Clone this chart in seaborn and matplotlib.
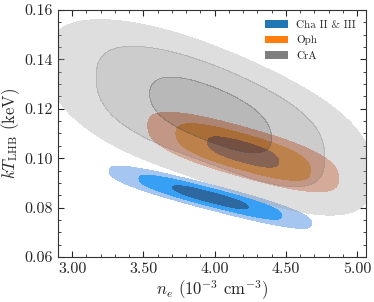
import numpy as np
import pandas as pd
import matplotlib
matplotlib.use("Agg")
import matplotlib.pyplot as plt
from matplotlib.patches import Patch
import seaborn as sns
from matplotlib.ticker import FormatStrFormatter, MultipleLocator

groups = ["Cha II & III", "Oph", "CrA"]
legend_colors = ["tab:blue", "tab:orange", "tab:gray"]

# representative posterior samples
cha_ne = [3.657, 3.657, 3.657, 3.735, 3.735, 3.735, 3.814, 3.814, 3.814,
          3.892, 3.892, 3.892, 3.97, 3.97, 3.97, 4.048, 4.048, 4.048,
          4.126, 4.126, 4.126, 4.205, 4.205, 4.205, 4.283, 4.283, 4.283]
cha_kt = [0.0871, 0.0889, 0.0907, 0.0859, 0.0877, 0.0895, 0.0847, 0.0865, 0.0883,
          0.0836, 0.0854, 0.0872, 0.0824, 0.0842, 0.0860, 0.0812, 0.0830, 0.0848,
          0.0801, 0.0819, 0.0837, 0.0789, 0.0807, 0.0825, 0.0777, 0.0795, 0.0813]

oph_ne = [3.905, 3.905, 3.905, 3.979, 3.979, 3.979, 4.052, 4.052, 4.052,
          4.126, 4.126, 4.126, 4.2, 4.2, 4.2, 4.274, 4.274, 4.274,
          4.348, 4.348, 4.348, 4.421, 4.421, 4.421, 4.495, 4.495, 4.495]
oph_kt = [0.1036, 0.1072, 0.1108, 0.1024, 0.1060, 0.1096, 0.1013, 0.1049, 0.1085,
          0.1001, 0.1037, 0.1073, 0.0989, 0.1025, 0.1061, 0.0977, 0.1013, 0.1049,
          0.0965, 0.1001, 0.1037, 0.0954, 0.0990, 0.1026, 0.0942, 0.0978, 0.1014]

cra_ne = [3.47, 3.47, 3.47, 3.595, 3.595, 3.595, 3.72, 3.72, 3.72,
          3.845, 3.845, 3.845, 3.97, 3.97, 3.97, 4.095, 4.095, 4.095,
          4.22, 4.22, 4.22, 4.345, 4.345, 4.345, 4.47, 4.47, 4.47]
cra_kt = [0.1152, 0.1250, 0.1348, 0.1149, 0.1247, 0.1345, 0.1143, 0.1241, 0.1339,
          0.1120, 0.1218, 0.1316, 0.1087, 0.1185, 0.1283, 0.1055, 0.1153, 0.1251,
          0.1022, 0.1120, 0.1218, 0.0990, 0.1088, 0.1186, 0.0962, 0.1060, 0.1158]

# iso-proportion levels (3, 2, 1 sigma)
levels = [0.0111, 0.1353, 0.6065, 1.0]

cha_fill = ["#a5c6f0", "#37a0f5", "#2d69a0"]
oph_fill = ["#f0af94", "#e88c3a", "#955f48"]
cra_fill = ["#a1a1a1", "#6d6d6d", "#343434"]

cha_df = pd.DataFrame({"ne": cha_ne, "kt": cha_kt})
oph_df = pd.DataFrame({"ne": oph_ne, "kt": oph_kt})
cra_df = pd.DataFrame({"ne": cra_ne, "kt": cra_kt})

sns.set_style("ticks")
plt.rcParams["font.family"] = ["cmr10", "DejaVu Serif"]
plt.rcParams["mathtext.fontset"] = "cm"
plt.rcParams["axes.formatter.use_mathtext"] = True

fig = plt.figure(figsize=(3.74, 3.02), dpi=100)
ax = fig.add_axes([0.155, 0.149, 0.824, 0.818])

for d, cols, a, lc in [(cha_df, cha_fill, 1.0, legend_colors[0]),
                       (oph_df, oph_fill, 1.0, legend_colors[1]),
                       (cra_df, cra_fill, 0.35, legend_colors[2])]:
    sns.kdeplot(data=d, x="ne", y="kt", fill=True, levels=levels,
                bw_adjust=1.47, color=lc, colors=cols, alpha=a, ax=ax)

ax.set_xlim(2.9, 5.063)
ax.set_ylim(0.06, 0.16)
ax.xaxis.set_major_locator(MultipleLocator(0.5))
ax.xaxis.set_minor_locator(MultipleLocator(0.1))
ax.yaxis.set_major_locator(MultipleLocator(0.02))
ax.yaxis.set_minor_locator(MultipleLocator(0.005))
ax.xaxis.set_major_formatter(FormatStrFormatter("%.2f"))
ax.yaxis.set_major_formatter(FormatStrFormatter("%.2f"))
ax.tick_params(which="both", direction="in", top=True, right=True, labelsize=11.5)
ax.tick_params(which="major", length=4, width=0.8)
ax.tick_params(which="minor", length=2, width=0.6)
for s in ax.spines.values():
    s.set_linewidth(0.8)
    s.set_color("#333333")

ax.set_xlabel(r"$n_e$ ($10^{-3}$ cm$^{-3}$)", fontsize=12, labelpad=2)
ax.set_ylabel(r"$kT_{\rm LHB}$ (keV)", fontsize=12, labelpad=2)

handles = [Patch(facecolor=c, edgecolor="none") for c in legend_colors]
ax.legend(handles, groups, loc="upper right", frameon=False, fontsize=8)

fig.savefig("out.png", dpi=100)
